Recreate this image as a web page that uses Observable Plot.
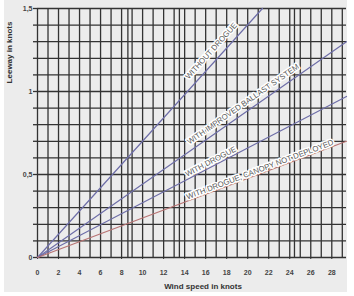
<!DOCTYPE html>
<html>
<head>
<meta charset="utf-8">
<script src="https://cdn.jsdelivr.net/npm/d3@7"></script>
<script src="https://cdn.jsdelivr.net/npm/@observablehq/plot@0.6"></script>
<style>
  html, body { margin: 0; padding: 0; background: #ffffff; }
  #bg { position: absolute; left: 4px; top: 0; width: 343px; height: 292px; background: #ececec; }
  #chart { position: absolute; left: 0; top: 0; }
  #chart svg { display: block; }
</style>
</head>
<body>
<div id="bg"></div>
<div id="chart"></div>
<script>
// ---- data ----
const seriesNames = ["WITHOUT DROGUE", "WITH IMPROVED BALLAST SYSTEM", "WITH DROGUE", "WITH DROGUE, CANOPY NOT DEPLOYED"];
const seriesEndWind = [21.4, 29.4, 29.4, 29.4];      // knots wind at end of each line
const seriesEndLeeway = [1.5, 1.3, 0.97, 0.70];      // knots leeway at end of each line
const seriesColors = ["#6e6ea8", "#6e6ea8", "#6e6ea8", "#b87474"];
const labelWind = [17.2, 20.0, 16.7, 21.3];          // wind speed where each label sits
const labelLift = [9.5, 8, 5, 4];                    // px the label centre sits above its line

const xTicks = [0, 2, 4, 6, 8, 10, 12, 14, 16, 18, 20, 22, 24, 26, 28];
const yTicks = [0, 0.5, 1, 1.5];
const yTickLabels = ["0", "0,5", "1", "1,5"];
const vGrid = [0,1,2,3,4,5,6,7,8,8.6,9,10,11,12,13,13.5,14,15,16,17,18,19,20,21,22,23,24,24.45,25,26,27,28,29];
const hGrid = [0,0.1,0.2,0.3,0.4,0.5,0.6,0.7,0.8,0.9,1.0,1.1,1.2,1.3,1.4,1.5];
const xMax = 29.4, yMax = 1.5;

// ---- layout ----
const width = 354, height = 296;
const mL = 37, mR = 8, mT = 8, mB = 39;
const kx = (width - mL - mR) / xMax;
const ky = (height - mT - mB) / yMax;

const lineData = seriesNames.flatMap((name, i) => [
  {name, wind: 0, leeway: 0},
  {name, wind: seriesEndWind[i], leeway: seriesEndLeeway[i]}
]);
const labelData = seriesNames.map((name, i) => {
  const slope = seriesEndLeeway[i] / seriesEndWind[i];
  const theta = Math.atan(slope * ky / kx);
  const off = labelLift[i];
  return {
    name,
    wind: labelWind[i] - off * Math.sin(theta) / kx,
    leeway: slope * labelWind[i] + off * Math.cos(theta) / ky,
    angle: -theta * 180 / Math.PI
  };
});

const font = "'Liberation Sans', Arial, sans-serif";

const chart = Plot.plot({
  width, height,
  marginLeft: mL, marginRight: mR, marginTop: mT, marginBottom: mB,
  x: {domain: [0, xMax]},
  y: {domain: [0, yMax]},
  color: {domain: seriesNames, range: seriesColors},
  style: {background: "transparent", fontFamily: font, color: "#444"},
  marks: [
    Plot.ruleX(vGrid, {stroke: "#333", strokeWidth: 1.3}),
    Plot.ruleY(hGrid, {stroke: "#333", strokeWidth: 1.3}),
    Plot.axisY(hGrid, {tickSize: 4, tickFormat: () => "", stroke: "#333", strokeWidth: 1.3, label: null}),
    Plot.axisY(yTicks, {tickSize: 0, tickPadding: 5, tickFormat: (d) => yTickLabels[yTicks.indexOf(d)], fontSize: 7, fontWeight: "bold", fill: "#444", label: null}),
    Plot.axisX(xTicks, {tickSize: 2, tickPadding: 11, fontSize: 7, fontWeight: "bold", fill: "#444", stroke: "#333", label: null}),
    Plot.line(lineData, {x: "wind", y: "leeway", z: "name", stroke: "name", strokeWidth: 1.2}),
    Plot.text(labelData, {
      x: "wind", y: "leeway", text: "name", rotate: "angle",
      textAnchor: "middle", lineAnchor: "middle",
      fontSize: 7.8, fill: "#5a5a5a", stroke: "white", strokeWidth: 3
    }),
    Plot.text(["Wind speed in knots"], {frameAnchor: "bottom", textAnchor: "middle", lineAnchor: "middle", dx: 11, dy: 29, fontSize: 8, fontWeight: "bold", fill: "#333"}),
    Plot.text(["Leeway in knots"], {frameAnchor: "top-left", textAnchor: "middle", lineAnchor: "middle", rotate: -90, dx: -28, dy: 44, fontSize: 8, fontWeight: "bold", fill: "#333"})
  ]
});
document.getElementById("chart").appendChild(chart);
</script>
</body>
</html>
